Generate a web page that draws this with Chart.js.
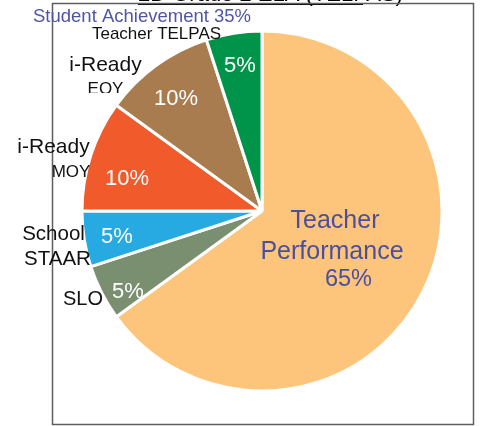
<!DOCTYPE html>
<html>
<head>
<meta charset="utf-8">
<script src="https://cdn.jsdelivr.net/npm/chart.js@4.4.0/dist/chart.umd.min.js"></script>
<style>
    html, body { margin: 0; padding: 0; background: #fff; }
    #wrap { width: 484px; height: 426px; position: relative; }
</style>
</head>
<body>
<div id="wrap"><canvas id="pieChart"></canvas></div>
<script>
// du lieu bieu do
const categories = ['Teacher Performance', 'SLO', 'School STAAR', 'i-Ready MOY', 'i-Ready EOY', 'Teacher TELPAS'];
const values = [65, 5, 5, 10, 10, 5];
const sliceColors = ['#fdc47b', '#7a8f6f', '#27aae1', '#f15a2b', '#a97c50', '#00944a'];
const outsideLines = [[], ['SLO'], ['School', 'STAAR'], ['i-Ready', 'MOY'], ['i-Ready', 'EOY'], ['Teacher TELPAS']];
const groupTitle = 'Student Achievement 35%';
const pageTitle = '2D Grade 2 ELA (TELPAS)';

const FONT = '"Liberation Sans", Arial, sans-serif';

// vi tri chu (so voi tam hinh tron)
const insidePos = [null, [-134, 87], [-145, 32], [-135, -26], [-86, -106], [-22, -139]];
const outsidePos = [
    [],
    [[-179, 94, 20]],
    [[-208.5, 29, 20.5], [-204.5, 54, 20.5]],
    [[-208.5, -58, 21], [-191, -34, 17]],
    [[-156.5, -140, 21], [-156.5, -117, 17]],
    [[-105.5, -172, 17]]
];

const framePlugin = {
    id: 'frame',
    beforeDraw(chart) {
        const ctx = chart.ctx;
        ctx.save();
        // tieu de bi cat o tren
        ctx.fillStyle = '#000';
        ctx.font = '22px ' + FONT;
        ctx.textAlign = 'left';
        ctx.textBaseline = 'alphabetic';
        ctx.fillText(pageTitle, 138, 1);
        ctx.fillRect(138, 3, 225, 2);
        // khung
        ctx.strokeStyle = '#5e5e5e';
        ctx.lineWidth = 1.5;
        ctx.strokeRect(52.5, 3.5, 421, 421);
        ctx.restore();
    },
    afterDatasetsDraw(chart) {
        const ctx = chart.ctx;
        const arc = chart.getDatasetMeta(0).data[0];
        const cx = arc.x, cy = arc.y;
        ctx.save();
        ctx.textAlign = 'center';
        ctx.textBaseline = 'alphabetic';

        // nhan ben ngoai
        ctx.fillStyle = '#111';
        outsideLines.forEach((lines, i) => {
            lines.forEach((txt, j) => {
                const p = outsidePos[i][j];
                ctx.save();
                if (txt === 'EOY') {
                    // hop chu bi cat o duoi
                    ctx.beginPath();
                    ctx.rect(cx + p[0] - 30, cy + p[1] - 20, 60, 19);
                    ctx.clip();
                }
                ctx.font = p[2] + 'px ' + FONT;
                ctx.fillText(txt, cx + p[0], cy + p[1]);
                ctx.restore();
            });
        });
        ctx.fillStyle = '#4f54a6';
        ctx.font = '18.5px ' + FONT;
        ctx.textAlign = 'left';
        ctx.fillText(groupTitle, 33, 22);

        // nhan phan tram
        ctx.textAlign = 'center';
        ctx.fillStyle = '#ffffff';
        ctx.font = '22px ' + FONT;
        values.forEach((v, i) => {
            if (!insidePos[i]) return;
            ctx.fillText(v + '%', cx + insidePos[i][0], cy + insidePos[i][1]);
        });
        // nhan lon
        ctx.fillStyle = '#4a4f9f';
        ctx.font = '25px ' + FONT;
        const words = categories[0].split(' ');
        ctx.fillText(words[0], cx + 73, cy + 17);
        ctx.fillText(words[1], cx + 70, cy + 48);
        ctx.font = '23.5px ' + FONT;
        ctx.fillText(values[0] + '%', cx + 86.5, cy + 75);
        ctx.restore();
    }
};

const ctx = document.getElementById('pieChart').getContext('2d');
new Chart(ctx, {
    type: 'pie',
    data: {
        labels: categories,
        datasets: [{
            data: values,
            backgroundColor: sliceColors,
            borderColor: '#ffffff',
            borderWidth: 3
        }]
    },
    options: {
        responsive: true,
        maintainAspectRatio: false,
        animation: false,
        layout: {
            padding: { top: 29.5, bottom: 33.5, left: 80.5, right: 40.5 }
        },
        plugins: {
            legend: { display: false },
            tooltip: { enabled: false }
        }
    },
    plugins: [framePlugin]
});
</script>
</body>
</html>
